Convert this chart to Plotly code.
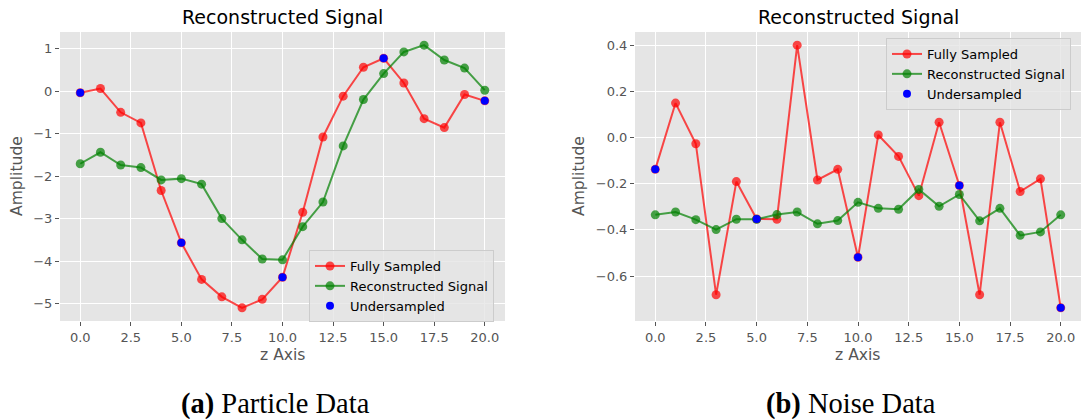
import plotly.graph_objects as go

# ---------------- data ----------------
z = list(range(21))
under_idx = [0, 5, 10, 15, 20]

particle_full = [-0.04, 0.06, -0.50, -0.75, -2.34, -3.57, -4.43, -4.84, -5.10, -4.90,
                 -4.38, -2.85, -1.08, -0.12, 0.56, 0.77, 0.19, -0.65, -0.86, -0.08, -0.23]
particle_recon = [-1.71, -1.44, -1.74, -1.80, -2.09, -2.06, -2.19, -3.00, -3.50, -3.95,
                  -3.97, -3.19, -2.61, -1.29, -0.20, 0.41, 0.92, 1.08, 0.73, 0.54, 0.02]

noise_full = [-0.138, 0.149, -0.027, -0.681, -0.191, -0.353, -0.354, 0.400, -0.184, -0.138,
              -0.519, 0.011, -0.082, -0.252, 0.066, -0.208, -0.681, 0.066, -0.234, -0.179, -0.738]
noise_recon = [-0.335, -0.323, -0.356, -0.399, -0.354, -0.354, -0.334, -0.323, -0.374, -0.360,
               -0.281, -0.307, -0.311, -0.225, -0.298, -0.247, -0.361, -0.307, -0.424, -0.409, -0.335]

x_ticks = [0, 2.5, 5, 7.5, 10, 12.5, 15, 17.5, 20]
panel_title = "Reconstructed Signal"
captions = ["<b>(a)</b> Particle Data", "<b>(b)</b> Noise Data"]

RED = "rgba(255,0,0,0.7)"
GREEN = "rgba(0,128,0,0.7)"
BLUE = "#0000ff"
TICK_GRAY = "#555555"

W, H = 1081, 419

fig = go.Figure()


def add_panel(full, recon, xa, ya, legend):
    und_x = [z[i] for i in under_idx]
    und_y = [full[i] for i in under_idx]
    fig.add_trace(go.Scatter(x=z, y=full, mode="lines+markers", name="Fully Sampled",
                             line=dict(color=RED, width=2),
                             marker=dict(color=RED, size=9),
                             xaxis=xa, yaxis=ya, legend=legend))
    fig.add_trace(go.Scatter(x=z, y=recon, mode="lines+markers", name="Reconstructed Signal",
                             line=dict(color=GREEN, width=2),
                             marker=dict(color=GREEN, size=9),
                             xaxis=xa, yaxis=ya, legend=legend))
    fig.add_trace(go.Scatter(x=und_x, y=und_y, mode="markers", name="Undersampled",
                             marker=dict(color=BLUE, size=8),
                             xaxis=xa, yaxis=ya, legend=legend))


add_panel(particle_full, particle_recon, "x", "y", "legend")
add_panel(noise_full, noise_recon, "x2", "y2", "legend2")


def pad_range(*series):
    vals = [v for s in series for v in s]
    lo, hi = min(vals), max(vals)
    m = (hi - lo) * 0.05
    return [lo - m, hi + m]


def px_x(p):
    return p / W


def px_y(p):
    return 1 - p / H


ydom = [px_y(321), px_y(32)]
xdom1 = [px_x(60), px_x(505)]
xdom2 = [px_x(635), 1.0]

axis_common = dict(showgrid=True, gridcolor="white", gridwidth=1, zeroline=False,
                   showline=False, ticks="outside", ticklen=4, tickcolor=TICK_GRAY,
                   tickfont=dict(family="DejaVu Sans", size=13, color=TICK_GRAY))

legend_common = dict(xanchor="left", yanchor="top",
                     bgcolor="rgba(229,229,229,0.8)", bordercolor="#cccccc", borderwidth=1,
                     font=dict(family="DejaVu Sans", size=13, color="black"),
                     tracegroupgap=0, itemwidth=30)

fig.update_layout(
    width=W, height=H,
    margin=dict(l=0, r=0, t=0, b=0),
    paper_bgcolor="white", plot_bgcolor="#E5E5E5",
    showlegend=True,
    xaxis=dict(domain=xdom1, range=[-1, 21], tickvals=x_ticks, tickformat=".1f",
               anchor="y", **axis_common),
    yaxis=dict(domain=ydom, range=pad_range(particle_full, particle_recon), dtick=1,
               anchor="x", **axis_common),
    xaxis2=dict(domain=xdom2, range=[-1, 21], tickvals=x_ticks, tickformat=".1f",
                anchor="y2", **axis_common),
    yaxis2=dict(domain=ydom, range=pad_range(noise_full, noise_recon), dtick=0.2,
                tickformat=".1f", anchor="x2", **axis_common),
    legend=dict(x=px_x(309), y=px_y(250), **legend_common),
    legend2=dict(x=px_x(886), y=px_y(38), **legend_common),
)

ann = []
for cx, ylab_x in [((60 + 505) / 2, 17), ((635 + 1081) / 2, 579)]:
    ann.append(dict(text=panel_title, x=px_x(cx), y=px_y(17), xref="paper", yref="paper",
                    showarrow=False, xanchor="center", yanchor="middle",
                    font=dict(family="DejaVu Sans", size=19, color="black")))
    ann.append(dict(text="z Axis", x=px_x(cx), y=px_y(355), xref="paper", yref="paper",
                    showarrow=False, xanchor="center", yanchor="middle",
                    font=dict(family="DejaVu Sans", size=15.6, color=TICK_GRAY)))
    ann.append(dict(text="Amplitude", x=px_x(ylab_x), y=px_y(176), xref="paper", yref="paper",
                    showarrow=False, xanchor="center", yanchor="middle", textangle=-90,
                    font=dict(family="DejaVu Sans", size=15.6, color=TICK_GRAY)))
for cap, cap_x in zip(captions, [275, 851]):
    ann.append(dict(text=cap, x=px_x(cap_x), y=px_y(404), xref="paper", yref="paper",
                    showarrow=False, xanchor="center", yanchor="middle",
                    font=dict(family="Liberation Serif", size=28.5, color="black")))
fig.update_layout(annotations=ann)

fig.write_html("out.html",
               config={"displayModeBar": False},
               post_script="document.body.style.margin='0';document.body.style.overflow='hidden';")
